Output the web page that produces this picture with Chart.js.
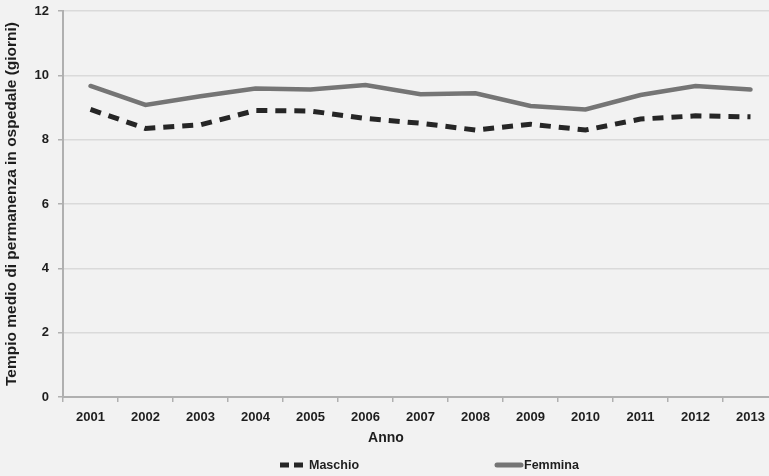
<!DOCTYPE html>
<html>
<head>
<meta charset="utf-8">
<script src="https://cdn.jsdelivr.net/npm/chart.js@4/dist/chart.umd.min.js"></script>
<style>
  html, body { margin: 0; padding: 0; background: #f2f2f2; overflow: hidden; }
  #wrap { width: 769px; height: 476px; overflow: hidden; position: relative; }
  canvas { display: block; }
</style>
</head>
<body>
<div id="wrap"><canvas id="c" width="800" height="476"></canvas></div>
<script>
// Years on the horizontal axis
const anni = ['2001','2002','2003','2004','2005','2006','2007','2008','2009','2010','2011','2012','2013'];
// Mean hospital stay (days) by sex
const maschio = [8.94, 8.35, 8.46, 8.91, 8.89, 8.66, 8.51, 8.30, 8.48, 8.30, 8.64, 8.74, 8.71];
const femmina = [9.67, 9.08, 9.35, 9.59, 9.56, 9.70, 9.41, 9.44, 9.05, 8.94, 9.39, 9.67, 9.56];
// Value axis ticks
const yTicks = [0, 2, 4, 6, 8, 10, 12];

const FONT = "'Liberation Sans', Arial, sans-serif";
const TEXT = '#1e1e1e';

// Draws the axis caption and the legend row below the plot
const bottomLabels = {
  id: 'bottomLabels',
  afterDraw(chart) {
    const ctx = chart.ctx;
    ctx.save();
    ctx.fillStyle = TEXT;
    ctx.font = 'bold 14px ' + FONT;
    ctx.textAlign = 'center';
    ctx.textBaseline = 'middle';
    ctx.fillText('Anno', 386, 438);

    const slots = [280, 495];
    chart.data.datasets.forEach((ds, i) => {
      const x = slots[i];
      const y = 465;
      ctx.save();
      ctx.strokeStyle = ds.borderColor;
      ctx.lineWidth = 5;
      ctx.lineCap = ds.borderDash ? 'butt' : 'round';
      ctx.setLineDash(ds.borderDash ? [9, 5] : []);
      ctx.beginPath();
      ctx.moveTo(x + (ds.borderDash ? 0 : 2), y);
      ctx.lineTo(x + 26, y);
      ctx.stroke();
      ctx.restore();
      ctx.fillStyle = TEXT;
      ctx.font = 'bold 12.5px ' + FONT;
      ctx.textAlign = 'left';
      ctx.fillText(ds.label, x + 29, y + 1);
    });
    ctx.restore();
  }
};

new Chart(document.getElementById('c'), {
  type: 'line',
  data: {
    labels: anni,
    datasets: [
      {
        label: 'Maschio',
        data: maschio,
        borderColor: '#262626',
        borderWidth: 5,
        borderDash: [11, 8],
        borderCapStyle: 'butt',
        pointRadius: 0,
        tension: 0
      },
      {
        label: 'Femmina',
        data: femmina,
        borderColor: '#757575',
        borderWidth: 4.5,
        borderCapStyle: 'round',
        pointRadius: 0,
        tension: 0
      }
    ]
  },
  options: {
    responsive: false,
    animation: false,
    layout: { padding: { top: 11, right: 22, bottom: 49, left: 0 } },
    plugins: {
      legend: { display: false },
      tooltip: { enabled: false }
    },
    scales: {
      x: {
        offset: true,
        afterFit(scale) { scale.height = 30; },
        grid: {
          offset: true,
          drawOnChartArea: false,
          drawTicks: true,
          tickLength: 5,
          color: '#b0b0b0',
          lineWidth: 1.5
        },
        border: { color: '#b0b0b0', width: 2 },
        ticks: {
          color: TEXT,
          font: { family: FONT, size: 13, weight: 'bold' },
          padding: 8,
          maxRotation: 0
        }
      },
      y: {
        min: 0,
        max: 12,
        afterFit(scale) {
          scale.width = 63;
          scale.paddingTop = 0;
          scale.paddingBottom = 0;
        },
        afterBuildTicks(scale) {
          scale.ticks = yTicks.map(v => ({ value: v }));
        },
        grid: {
          color: '#dadada',
          lineWidth: 1.5,
          tickLength: 5,
          tickColor: '#b0b0b0'
        },
        border: { color: '#b0b0b0', width: 2 },
        ticks: {
          color: TEXT,
          font: { family: FONT, size: 13, weight: 'bold' },
          padding: 9
        },
        title: {
          display: true,
          text: 'Tempio medio di permanenza in ospedale (giorni)',
          color: TEXT,
          font: { family: FONT, size: 15.5, weight: 'bold' },
          padding: { top: 2, bottom: 4 }
        }
      }
    }
  },
  plugins: [bottomLabels]
});
</script>
</body>
</html>
